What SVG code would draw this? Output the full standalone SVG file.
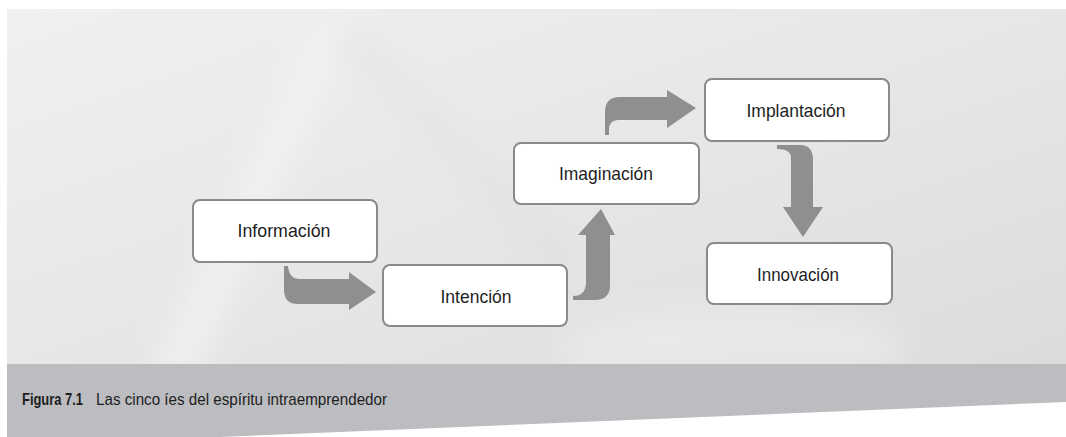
<svg xmlns="http://www.w3.org/2000/svg" width="1066" height="437" viewBox="0 0 1066 437">
  <defs>
    <linearGradient id="bg" x1="0" y1="0" x2="1" y2="1">
      <stop offset="0" stop-color="#f0f0f0"/>
      <stop offset="0.5" stop-color="#e7e7e7"/>
      <stop offset="1" stop-color="#dcdcdc"/>
    </linearGradient>
    <filter id="blur" x="-50%" y="-50%" width="200%" height="200%">
      <feGaussianBlur stdDeviation="16"/>
    </filter>
    <clipPath id="clip"><rect x="7" y="9" width="1059" height="355"/></clipPath>
  </defs>
  <style>
    .box { fill: #ffffff; stroke: #8a8a8a; stroke-width: 2; }
    .lbl { font-family: "Liberation Sans", Arial, sans-serif; font-size: 19px; fill: #1e1e1e; text-anchor: middle; }
    .arrow { fill: #8e8f91; stroke: none; }
    .cap { font-family: "Liberation Sans", Arial, sans-serif; font-size: 17px; fill: #1e1e1e; }
  </style>

  <rect x="0" y="0" width="1066" height="437" fill="#ffffff"/>
  <g id="background" clip-path="url(#clip)">
    <rect x="7" y="9" width="1059" height="355" fill="url(#bg)"/>
    <path d="M330 0 L360 0 L190 380 L150 380 Z" fill="#f6f6f6" opacity="0.7" filter="url(#blur)"/>
    <path d="M320 20 L345 20 L580 260 L560 270 Z" fill="#d8d8d8" opacity="0.35" filter="url(#blur)"/>
    <path d="M560 340 Q700 280 900 330 L900 370 L560 370 Z" fill="#f2f2f2" opacity="0.5" filter="url(#blur)"/>
  </g>

  <g id="caption">
    <polygon points="7,364 1066,364 1066,402 220,437 7,437" fill="#bcbdc0"/>
    <text class="cap" x="22" y="405" font-weight="bold" textLength="61" lengthAdjust="spacingAndGlyphs">Figura 7.1</text>
    <text class="cap" x="96" y="405" textLength="291" lengthAdjust="spacingAndGlyphs">Las cinco íes del espíritu intraemprendedor</text>
  </g>

  <g id="connectors">
    <path class="arrow" d="M284 266 L288 266 Q289 279 300 279 L349 279 L349 272 L376 292 L349 310 L349 304 L298 304 Q284 304 284 290 Z"/>
    <path class="arrow" d="M573 296 Q586 296 586 282 L586 235 L578 235 L601 209 L615 235 L610 235 L610 285 Q610 300 595 300 L573 300 Z"/>
    <path class="arrow" d="M605 135 L605 112 Q605 97 620 97 L667 97 L667 90 L696 108 L667 128 L667 120 L618 120 Q609 120 609 130 L609 135 Z"/>
    <path class="arrow" d="M777 145 L800 145 Q813 145 813 160 L813 207 L823 207 L803 237 L783 207 L791 207 L791 158 Q791 149 777 149 Z"/>
  </g>

  <g id="informacion">
    <rect class="box" x="193" y="200" width="184" height="62" rx="7"/>
    <text class="lbl" x="284" y="237" textLength="93" lengthAdjust="spacingAndGlyphs">Información</text>
  </g>
  <g id="intencion">
    <rect class="box" x="383" y="265" width="184" height="61" rx="7"/>
    <text class="lbl" x="476" y="303" textLength="71" lengthAdjust="spacingAndGlyphs">Intención</text>
  </g>
  <g id="imaginacion">
    <rect class="box" x="514" y="143" width="185" height="61" rx="7"/>
    <text class="lbl" x="606" y="180" textLength="94" lengthAdjust="spacingAndGlyphs">Imaginación</text>
  </g>
  <g id="implantacion">
    <rect class="box" x="705" y="79" width="184" height="62" rx="7"/>
    <text class="lbl" x="796" y="117" textLength="99" lengthAdjust="spacingAndGlyphs">Implantación</text>
  </g>
  <g id="innovacion">
    <rect class="box" x="707" y="243" width="185" height="61" rx="7"/>
    <text class="lbl" x="798" y="281" textLength="82" lengthAdjust="spacingAndGlyphs">Innovación</text>
  </g>
</svg>
